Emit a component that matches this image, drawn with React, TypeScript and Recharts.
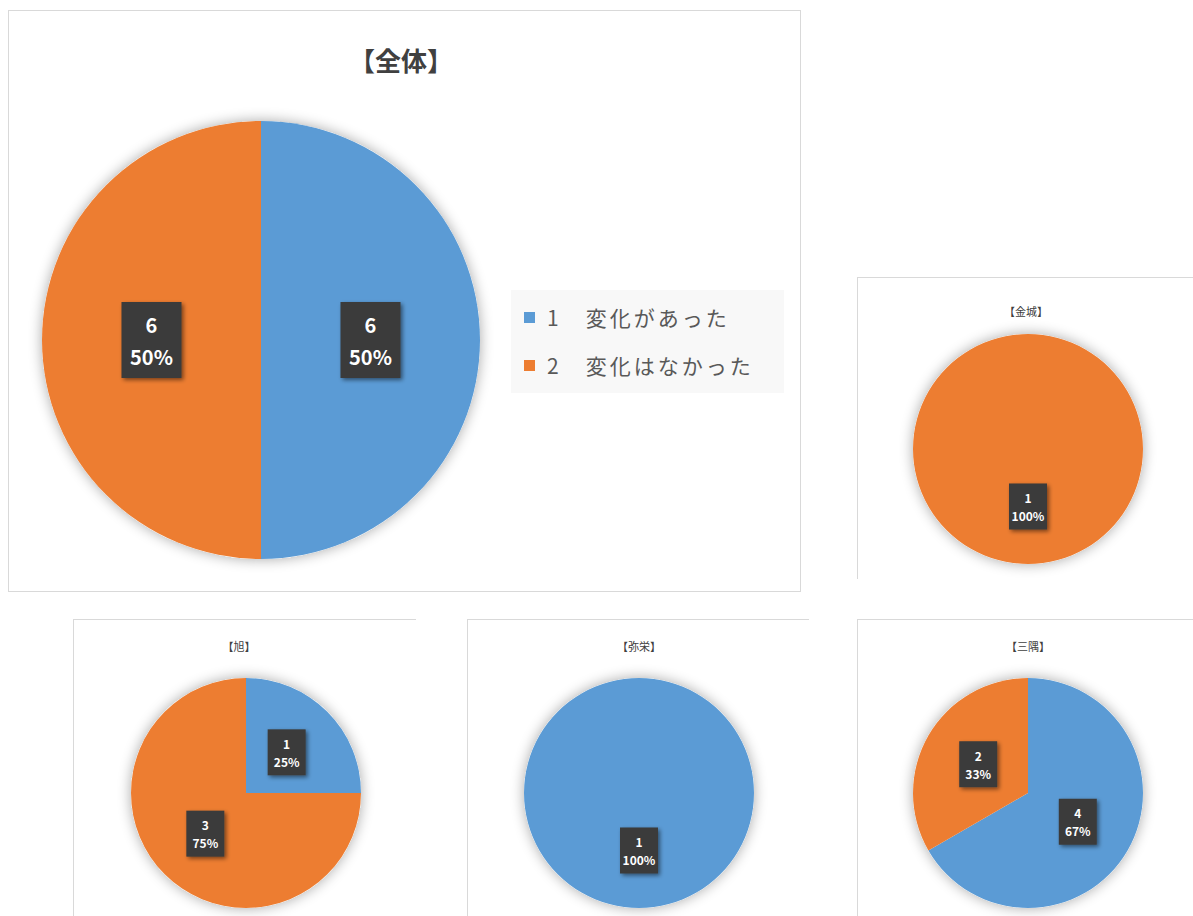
import React from 'react';
import { PieChart, Pie, Cell, Legend } from 'recharts';

const categories = ['1　変化があった', '2　変化はなかった'];
const colors = ['#5B9BD5', '#ED7D31'];

const totalValues = [6, 6];
const kanagiValues = [0, 1];
const asahiValues = [1, 3];
const yasakaValues = [1, 0];
const misumiValues = [4, 2];

const titles = ['【全体】', '【金城】', '【旭】', '【弥栄】', '【三隅】'];

const toData = (vals: number[]) => categories.map((name, i) => ({ name, value: vals[i] }));

const FONT = '"Noto Sans CJK JP", "Noto Sans", sans-serif';
const RAD = Math.PI / 180;
const NO_MARGIN = { top: 0, right: 0, bottom: 0, left: 0 };

const makeLabel = (big: boolean) => (props: any) => {
  const { cx, cy, midAngle, outerRadius, value, percent } = props;
  if (!value) return null;
  const r = outerRadius * 0.5;
  const x = cx + r * Math.cos(-midAngle * RAD);
  const y = cy + r * Math.sin(-midAngle * RAD);
  const pct = `${Math.round(percent * 100)}%`;
  const w = big ? 60 : 38;
  const h = big ? 76 : 46;
  const fs = big ? 20 : 12;
  const gap = big ? 32 : 18;
  return (
    <g>
      <rect x={x - w / 2} y={y - h / 2} width={w} height={h} fill="#3b3b3b" filter="url(#boxShadow)" />
      <text x={x} y={y - gap / 2} textAnchor="middle" dominantBaseline="central" fill="#ffffff" fontWeight="bold" fontSize={fs} fontFamily={FONT}>
        {value}
      </text>
      <text x={x} y={y + gap / 2} textAnchor="middle" dominantBaseline="central" fill="#ffffff" fontWeight="bold" fontSize={fs} fontFamily={FONT}>
        {pct}
      </text>
    </g>
  );
};

const Defs = () => (
  <defs>
    <filter id="pieShadow" x="-20%" y="-20%" width="140%" height="140%">
      <feGaussianBlur in="SourceAlpha" stdDeviation="7" />
      <feOffset dx="0" dy="0" result="b" />
      <feComponentTransfer>
        <feFuncA type="linear" slope="0.35" />
      </feComponentTransfer>
      <feMerge>
        <feMergeNode />
        <feMergeNode in="SourceGraphic" />
      </feMerge>
    </filter>
    <filter id="boxShadow" x="-30%" y="-30%" width="170%" height="170%">
      <feGaussianBlur in="SourceAlpha" stdDeviation="2" />
      <feOffset dx="2" dy="2" />
      <feComponentTransfer>
        <feFuncA type="linear" slope="0.5" />
      </feComponentTransfer>
      <feMerge>
        <feMergeNode />
        <feMergeNode in="SourceGraphic" />
      </feMerge>
    </filter>
  </defs>
);

const LegendContent = () => (
  <div style={{ background: '#f8f8f8', padding: '3px 4px 4px 13px', width: 256 }}>
    {categories.map((c, i) => (
      <div key={i} style={{ display: 'flex', alignItems: 'center', height: 48, fontFamily: FONT, fontSize: 21, letterSpacing: 3, color: '#595959' }}>
        <span style={{ display: 'inline-block', width: 11, height: 11, background: colors[i], marginRight: 12 }} />
        <span style={{ whiteSpace: 'nowrap' }}>{c}</span>
      </div>
    ))}
  </div>
);

type SmallProps = { left: number; top: number; width: number; height: number; title: string; values: number[]; cx: number; cy: number; titleX: number; titleY: number };

const SmallPie = ({ left, top, width, height, title, values, cx, cy, titleX, titleY }: SmallProps) => (
  <div style={{ position: 'absolute', left, top, width, height, borderTop: '1px solid #d9d9d9', borderLeft: '1px solid #d9d9d9', background: '#fff' }}>
    <div style={{ position: 'absolute', left: titleX - 50, top: titleY - 9, width: 100, textAlign: 'center', fontFamily: FONT, fontSize: 11, color: '#404040', lineHeight: '18px' }}>{title}</div>
    <PieChart width={width} height={height} margin={NO_MARGIN} style={{ position: 'absolute', left: 0, top: 0 }}>
      <Defs />
      <Pie data={[{ name: 'bg', value: 1 }]} dataKey="value" cx={cx} cy={cy} outerRadius={115} fill="#ffffff" stroke="none" isAnimationActive={false} style={{ filter: 'url(#pieShadow)' }} />
      <Pie data={toData(values)} dataKey="value" nameKey="name" cx={cx} cy={cy} outerRadius={115} startAngle={90} endAngle={-270} stroke="none" labelLine={false} label={makeLabel(false)} isAnimationActive={false}>
        {values.map((_, i) => (
          <Cell key={i} fill={colors[i]} />
        ))}
      </Pie>
    </PieChart>
  </div>
);

export default function App() {
  return (
    <div style={{ position: 'absolute', left: 0, top: 0, width: 1193, height: 916, background: '#ffffff', overflow: 'hidden' }}>
      <div style={{ position: 'absolute', left: 8, top: 10, width: 791, height: 580, border: '1px solid #d9d9d9' }}>
        <div style={{ position: 'absolute', left: 292, top: 31, width: 200, textAlign: 'center', fontFamily: FONT, fontWeight: 'bold', fontSize: 26, color: '#404040', lineHeight: '36px' }}>{titles[0]}</div>
        <PieChart width={791} height={580} margin={NO_MARGIN} style={{ position: 'absolute', left: 0, top: 0 }}>
          <Defs />
          <Pie data={[{ name: 'bg', value: 1 }]} dataKey="value" cx={252} cy={329} outerRadius={219} fill="#ffffff" stroke="none" isAnimationActive={false} legendType="none" style={{ filter: 'url(#pieShadow)' }} />
          <Pie data={toData(totalValues)} dataKey="value" nameKey="name" cx={252} cy={329} outerRadius={219} startAngle={90} endAngle={-270} stroke="none" labelLine={false} label={makeLabel(true)} isAnimationActive={false}>
            {totalValues.map((_, i) => (
              <Cell key={i} fill={colors[i]} />
            ))}
          </Pie>
          <Legend content={<LegendContent />} layout="vertical" wrapperStyle={{ position: 'absolute', left: 502, top: 279, width: 273 }} />
        </PieChart>
      </div>
      <SmallPie left={857} top={277} width={336} height={301} title={titles[1]} values={kanagiValues} cx={170} cy={171} titleX={168} titleY={33} />
      <SmallPie left={73} top={619} width={342} height={297} title={titles[2]} values={asahiValues} cx={172} cy={173} titleX={165} titleY={26} />
      <SmallPie left={467} top={619} width={341} height={297} title={titles[3]} values={yasakaValues} cx={171} cy={173} titleX={171} titleY={26} />
      <SmallPie left={857} top={619} width={336} height={297} title={titles[4]} values={misumiValues} cx={170} cy={173} titleX={170} titleY={26} />
    </div>
  );
}
